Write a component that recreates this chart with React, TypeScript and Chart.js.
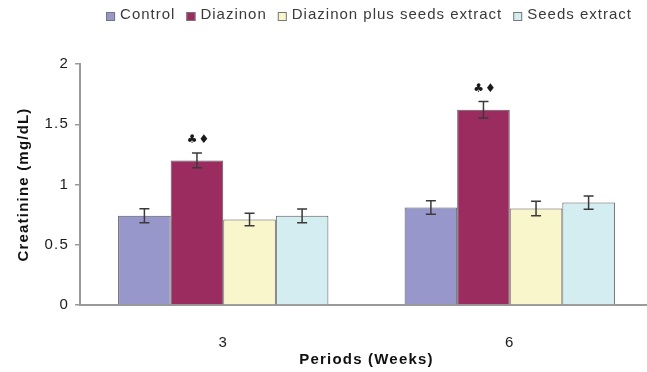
import React, { useEffect, useRef } from "react";
import { Chart, registerables } from "chart.js";

Chart.register(...registerables);

const categories = ["3", "6"];
const seriesLabels = ["Control", "Diazinon", "Diazinon plus seeds extract", "Seeds extract"];
const controlValues = [0.74, 0.81];
const diazinonValues = [1.2, 1.62];
const comboValues = [0.71, 0.8];
const seedsValues = [0.74, 0.85];
const controlErrors = [0.058, 0.056];
const diazinonErrors = [0.062, 0.069];
const comboErrors = [0.052, 0.06];
const seedsErrors = [0.057, 0.055];
const diazinonMarks = ["♣♦", "♣♦"];
const yTickValues = [0, 0.5, 1, 1.5, 2];
const yTickLabels = ["0", "0.5", "1", "1.5", "2"];
const yAxisTitle = "Creatinine (mg/dL)";
const xAxisTitle = "Periods (Weeks)";

const seriesColors = ["#9797CB", "#9B2C5F", "#FAF6CB", "#D3EDF1"];
const FONT = '"Liberation Sans", Arial, sans-serif';

const spacingPlugin = {
  id: "spacing",
  beforeLayout(chart: any) {
    chart.ctx.letterSpacing = "1.2px";
  },
  beforeDraw(chart: any) {
    chart.ctx.letterSpacing = "1.2px";
  },
};

const errorBarPlugin = {
  id: "errorBars",
  afterDatasetsDraw(chart: any) {
    const ctx = chart.ctx;
    const yScale = chart.scales.y;
    ctx.save();
    chart.data.datasets.forEach((ds: any, i: number) => {
      const meta = chart.getDatasetMeta(i);
      meta.data.forEach((bar: any, j: number) => {
        const v = ds.data[j];
        const e = ds.errors[j];
        const top = yScale.getPixelForValue(v + e);
        const bot = yScale.getPixelForValue(v - e);
        const x = bar.x;
        ctx.strokeStyle = "#3a3a3a";
        ctx.lineWidth = 1.5;
        ctx.beginPath();
        ctx.moveTo(x, top);
        ctx.lineTo(x, bot);
        ctx.moveTo(x - 5, top);
        ctx.lineTo(x + 5, top);
        ctx.moveTo(x - 5, bot);
        ctx.lineTo(x + 5, bot);
        ctx.stroke();
        const mark = ds.marks ? ds.marks[j] : "";
        if (mark) {
          ctx.letterSpacing = "1px";
          ctx.fillStyle = "#1a1a1a";
          ctx.font = '12px "DejaVu Sans", sans-serif';
          ctx.textAlign = "center";
          ctx.textBaseline = "middle";
          ctx.fillText(mark, x + 1.5, top - 13);
        }
      });
    });
    ctx.restore();
  },
};

const legendPlugin = {
  id: "customLegend",
  afterDraw(chart: any) {
    const ctx = chart.ctx;
    ctx.save();
    ctx.letterSpacing = "1px";
    ctx.font = "15px " + FONT;
    ctx.textBaseline = "middle";
    ctx.textAlign = "left";
    const box = 9;
    const gapText = 5;
    const gapItem = 11;
    const items = chart.data.datasets.map((ds: any) => ({
      label: ds.label,
      color: ds.backgroundColor,
      w: ctx.measureText(ds.label).width,
    }));
    const total =
      items.reduce((s: number, it: any) => s + box + gapText + it.w, 0) + gapItem * (items.length - 1);
    let x = 369 - total / 2;
    const y = 15;
    items.forEach((it: any) => {
      ctx.fillStyle = it.color;
      ctx.fillRect(x, y - 3, box, box);
      ctx.strokeStyle = "#777";
      ctx.lineWidth = 1;
      ctx.strokeRect(x + 0.5, y - 2.5, box - 1, box - 1);
      x += box + gapText;
      ctx.fillStyle = "#3a3a3a";
      ctx.fillText(it.label, x, y);
      x += it.w + gapItem;
    });
    ctx.restore();
  },
};

export default function App() {
  const ref = useRef<HTMLCanvasElement>(null);
  useEffect(() => {
    document.body.style.margin = "0";
    const valueSets = [controlValues, diazinonValues, comboValues, seedsValues];
    const errorSets = [controlErrors, diazinonErrors, comboErrors, seedsErrors];
    const datasets: any[] = seriesLabels.map((label, i) => ({
      label,
      data: valueSets[i],
      errors: errorSets[i],
      marks: i === 1 ? diazinonMarks : null,
      backgroundColor: seriesColors[i],
      borderColor: "#5a5a5a",
      borderWidth: 1,
      categoryPercentage: 0.734,
      barPercentage: 1.0,
    }));
    const chart = new Chart(ref.current as HTMLCanvasElement, {
      type: "bar",
      data: { labels: categories, datasets },
      options: {
        animation: false,
        responsive: false,
        layout: { padding: { top: 64, right: 0, left: 0, bottom: 0 } },
        plugins: {
          legend: { display: false },
          tooltip: { enabled: false },
        },
        scales: {
          x: {
            grid: { display: false },
            border: { display: true, color: "#9a9a9a", width: 2 },
            ticks: { color: "#1a1a1a", font: { size: 15, family: FONT }, padding: 21 },
            title: {
              display: true,
              text: xAxisTitle,
              color: "#111",
              font: { size: 15, weight: "bold", family: FONT },
              padding: { top: 0, bottom: 3 },
            },
            afterFit: (scale: any) => {
              scale.height = 67;
            },
          },
          y: {
            min: 0,
            max: 2,
            afterBuildTicks: (scale: any) => {
              scale.ticks = yTickValues.map((v) => ({ value: v }));
            },
            grid: {
              display: true,
              drawOnChartArea: false,
              drawTicks: true,
              tickLength: 5,
              color: "#9a9a9a",
              lineWidth: 1.5,
            },
            border: { display: true, color: "#9a9a9a", width: 2 },
            ticks: {
              color: "#1a1a1a",
              font: { size: 15, family: FONT },
              padding: 6,
              callback: (value: any) => {
                const k = yTickValues.indexOf(Number(value));
                return k >= 0 ? yTickLabels[k] : String(value);
              },
            },
            title: {
              display: true,
              text: yAxisTitle,
              color: "#111",
              font: { size: 15, weight: "bold", family: FONT },
              padding: { top: 15, bottom: 0 },
            },
            afterFit: (scale: any) => {
              scale.width = 80;
            },
          },
        },
      } as any,
      plugins: [spacingPlugin, errorBarPlugin, legendPlugin],
    });
    return () => chart.destroy();
  }, []);
  return (
    <div style={{ width: 647, height: 372, overflow: "hidden", background: "#fff" }}>
      <canvas ref={ref} width={653} height={372} style={{ display: "block", width: 653, height: 372 }} />
    </div>
  );
}
